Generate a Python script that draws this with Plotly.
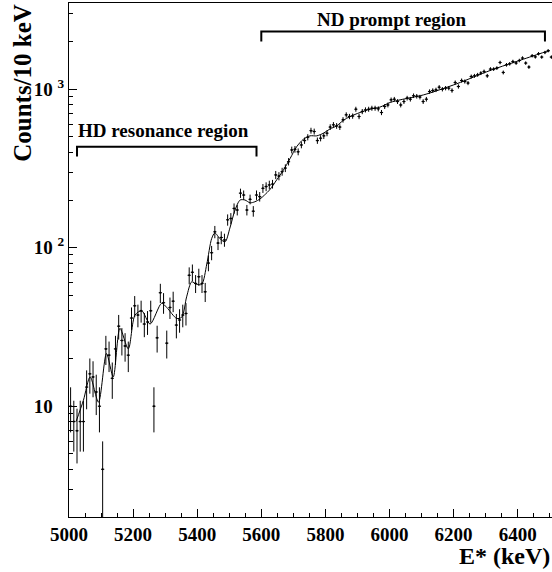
import math
import plotly.graph_objects as go

# ---------------- data ----------------
bin_start = 5005      # keV, first bin centre
bin_width = 10        # keV
counts = [
    10, 8, 7, 8, 8, 13.2, 16, 15.3, 12.3, 10,          # 5005-5095
    4, 23, 21, 15, 23, 32, 26, 24, 21, 36,              # 5105-5195
    43, 37.6, 40, 33, 34, 40, 10, 27, 52, 45,           # 5205-5295
    25, 42, 46, 32.5, 35, 37.6, 38.5, 67, 70, 59.5,     # 5305-5395
    65.6, 59.5, 52.7, 80, 93, 126, 107, 116, 112, 150,  # 5405-5495
    153, 177, 173, 221, 215, 173, 202, 170, 215, 210,   # 5505-5595
    237, 243, 249, 252, 288, 283, 302, 318, 349, 414,   # 5605-5695
    418, 403, 445, 474, 498, 548, 541, 474, 491, 508,   # 5705-5795
    528, 577, 596, 587, 577, 641, 689, 673, 677, 748,   # 5805-5895
    673, 723, 741, 748, 759, 759, 752, 713, 778, 796,   # 5905-5995
    857, 865, 836, 796, 836, 879, 865, 910, 903, 892,   # 6005-6095
    836, 865, 967, 982, 991, 1030, 1000, 1016, 1016, 982,        # 6105-6195
    1102, 1041, 1135, 1119, 1094, 1203, 1215, 1233, 1264, 1295,  # 6205-6295
    1215, 1340, 1340, 1359, 1475, 1276, 1426, 1447, 1496, 1462,  # 6305-6395
    1518, 1573, 1462, 1380, 1627, 1600, 1675, 1595, 1706, 1750,  # 6405-6495
    1595,                                                        # 6505
]
energy = [bin_start + bin_width * i for i in range(len(counts))]
errors = [math.sqrt(c) for c in counts]

fit_energy = [5022, 5045, 5066, 5092, 5117, 5138, 5159, 5185, 5206, 5227,
              5253, 5289, 5305, 5336, 5352, 5367, 5383, 5398, 5414, 5430,
              5445, 5455, 5471, 5487, 5502, 5518, 5534, 5549, 5565, 5580,
              5596, 5610, 5627, 5648, 5669, 5690, 5710, 5731, 5752, 5773,
              5794, 5814, 5835, 5856, 5877, 5908, 5939, 5970, 6002, 6033,
              6106, 6210, 6314, 6418, 6490, 6500]
fit_counts = [8, 10.9, 15.3, 10.6, 21.5, 15.3, 31, 23, 37.6, 40,
              33, 44.6, 42, 35.8, 36.5, 49, 61, 58.8, 58.8, 79,
              114, 124, 114, 109, 133, 173, 200, 200, 192, 195,
              203, 215, 233, 268, 309, 366, 433, 483, 508, 508,
              528, 561, 587, 636, 673, 713, 748, 771, 825, 857,
              921, 1083, 1313, 1548, 1730, 1750]

# region brackets: [x_start, x_end, y_top, y_tip] and labels
hd_bracket = [5025, 5585, 434, 376]
nd_bracket = [5600, 6485, 2316, 2000]
hd_label = ("HD resonance region", 5296, 546)
nd_label = ("ND prompt region", 6007, 2742)

x_range = [5000, 6507]
y_range = [2, 3500]
y_major = [10, 100, 1000]
y_major_text = ["10 <sup><span style='color:rgba(0,0,0,0)'>2</span></sup>",
                "10 <sup>2</sup>", "10 <sup>3</sup>"]
y_minor = [m * d for d in (1, 10, 100, 1000) for m in range(2, 10) if m * d <= 3500]

FONT = "Liberation Serif"

fig = go.Figure()

fig.add_trace(go.Scatter(
    x=energy, y=counts, mode="markers",
    marker=dict(color="black", size=2),
    error_y=dict(type="data", array=errors, color="black", thickness=1, width=0),
    error_x=dict(type="constant", value=bin_width / 2, color="black", thickness=1, width=0),
    hoverinfo="x+y",
))

fig.add_trace(go.Scatter(
    x=fit_energy, y=fit_counts, mode="lines",
    line=dict(color="black", width=1, shape="spline", smoothing=0.8),
    hoverinfo="skip",
))

for br in (hd_bracket, nd_bracket):
    fig.add_trace(go.Scatter(
        x=[br[0], br[0], br[1], br[1]],
        y=[br[3], br[2], br[2], br[3]],
        mode="lines", line=dict(color="black", width=2),
        hoverinfo="skip",
    ))

for text, xv, yv in (hd_label, nd_label):
    fig.add_annotation(
        x=xv, y=math.log10(yv), xref="x", yref="y", text=text, showarrow=False,
        xanchor="center", yanchor="middle",
        font=dict(family=FONT, size=19, color="black", weight="bold"),
    )

# axis titles
fig.add_annotation(
    xref="paper", yref="paper", x=(23 - 69) / 483, y=(516.7 - 83) / 513.4,
    text="Counts/10 keV", textangle=-90, showarrow=False,
    xanchor="center", yanchor="middle",
    font=dict(family=FONT, size=25, color="black", weight="bold"),
)
fig.add_annotation(
    xref="paper", yref="paper", x=1.0, y=(516.7 - 556) / 513.4,
    text="E* (keV)", showarrow=False, xanchor="right", yanchor="middle",
    font=dict(family=FONT, size=24, color="black", weight="bold"),
)

tickfont = dict(family=FONT, size=19, color="black", weight="bold")

fig.update_xaxes(
    range=x_range, tick0=5000, dtick=200, ticks="inside", ticklen=8, tickwidth=1,
    tickcolor="black", tickfont=tickfont, showline=True, linecolor="black",
    linewidth=1, mirror=True, showgrid=False, zeroline=False,
    minor=dict(dtick=50, tick0=5000, ticks="inside", ticklen=4, tickwidth=1,
               tickcolor="black", showgrid=False),
)
fig.update_yaxes(
    type="log", range=[math.log10(y_range[0]), math.log10(y_range[1])],
    tickmode="array", tickvals=y_major, ticktext=y_major_text,
    ticks="inside", ticklen=8, tickwidth=1, tickcolor="black", tickfont=tickfont,
    showline=True, linecolor="black", linewidth=1, mirror=False,
    showgrid=False, zeroline=False,
    minor=dict(tickmode="array", tickvals=y_minor, ticks="inside", ticklen=4,
               tickwidth=1, tickcolor="black", showgrid=False),
)

fig.update_layout(
    width=552, height=572,
    margin=dict(l=69, r=0, t=3, b=55),
    plot_bgcolor="white", paper_bgcolor="white",
    showlegend=False,
)

fig.write_html(
    "out.html",
    config={"displayModeBar": False},
    post_script="document.body.style.margin='0';document.body.style.padding='0';"
                "document.body.style.overflow='hidden';",
)
